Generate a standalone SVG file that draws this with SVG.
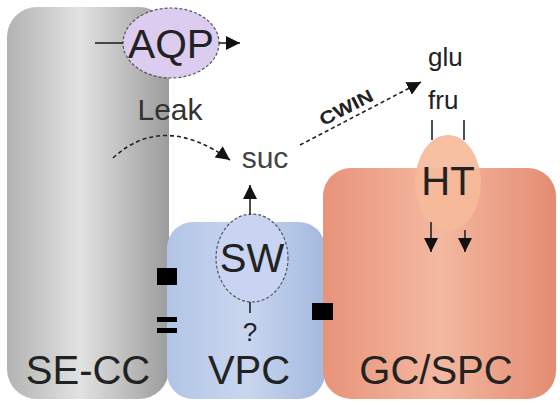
<svg xmlns="http://www.w3.org/2000/svg" width="560" height="403" viewBox="0 0 560 403">
<defs>
  <linearGradient id="gGray" x1="0" y1="0" x2="1" y2="0">
    <stop offset="0" stop-color="#b2b2b2"/>
    <stop offset="0.45" stop-color="#e2e2e2"/>
    <stop offset="1" stop-color="#9c9c9c"/>
  </linearGradient>
  <linearGradient id="gBlue" x1="0" y1="0" x2="1" y2="0">
    <stop offset="0" stop-color="#b2c5e6"/>
    <stop offset="0.5" stop-color="#c9d6ef"/>
    <stop offset="1" stop-color="#a3b9de"/>
  </linearGradient>
  <linearGradient id="gSalmon" x1="0" y1="0" x2="1" y2="0">
    <stop offset="0" stop-color="#e8937a"/>
    <stop offset="0.5" stop-color="#f3b8a0"/>
    <stop offset="1" stop-color="#e48c72"/>
  </linearGradient>
  <marker id="ah" markerWidth="16" markerHeight="14" refX="14" refY="7" orient="auto" markerUnits="userSpaceOnUse">
    <path d="M0,0 L14,7 L0,14 Z" fill="#111"/>
  </marker>
</defs>
<style>
  .lbl { font-family: "Liberation Sans", Arial, sans-serif; fill: #222; }
  .big { font-size: 40px; }
  .mid { font-size: 30px; }
  .conn { stroke: #222; stroke-width: 1.6; fill: none; }
  .dash { stroke-dasharray: 4 3; }
  .sq { fill: #000; }
</style>

<g id="SE-CC">
  <rect x="7" y="7" width="162" height="392" rx="30" ry="30" fill="url(#gGray)"/>
  <text class="lbl big" x="88" y="384" text-anchor="middle">SE-CC</text>
</g>
<g id="VPC">
  <rect x="167" y="222" width="158" height="177" rx="26" ry="26" fill="url(#gBlue)"/>
  <text class="lbl big" x="249" y="384" text-anchor="middle">VPC</text>
</g>
<g id="GC-SPC">
  <rect x="323" y="168" width="233" height="231" rx="28" ry="28" fill="url(#gSalmon)"/>
  <text class="lbl big" x="436" y="384" text-anchor="middle">GC/SPC</text>
</g>

<g id="AQP">
  <ellipse cx="171" cy="43" rx="48" ry="35" fill="#dccdf0" stroke="#555" stroke-width="1.2" stroke-dasharray="3 2"/>
  <text class="lbl big" x="171" y="58" text-anchor="middle" textLength="86" lengthAdjust="spacingAndGlyphs">AQP</text>
</g>
<g id="SW">
  <ellipse cx="252" cy="258" rx="36" ry="44" fill="#c8d4f1" stroke="#555" stroke-width="1.2" stroke-dasharray="3 2"/>
  <text class="lbl big" x="252" y="272" text-anchor="middle">SW</text>
  <text class="lbl" x="250" y="341" text-anchor="middle" style="font-size:26px">?</text>
</g>
<g id="HT">
  <ellipse cx="448" cy="183" rx="33" ry="48" fill="#f6b999" fill-opacity="0.9"/>
  <text class="lbl big" x="448" y="195" text-anchor="middle">HT</text>
</g>

<g id="labels">
  <text class="lbl mid" x="170" y="120" text-anchor="middle" style="fill:#333">Leak</text>
  <text class="lbl mid" x="265" y="168" text-anchor="middle" style="fill:#444">suc</text>
  <text class="lbl" x="428" y="66" style="font-size:26px">glu</text>
  <text class="lbl" x="428" y="109" style="font-size:26px">fru</text>
  <text class="lbl" x="0" y="0" transform="translate(349,113) rotate(-27)" text-anchor="middle" style="font-size:18px;font-weight:bold" textLength="58" lengthAdjust="spacingAndGlyphs">CWIN</text>
</g>

<g id="connectors">
  <line class="conn" x1="95" y1="43" x2="123" y2="43"/>
  <line class="conn" x1="219" y1="43" x2="240" y2="43" marker-end="url(#ah)"/>
  <path class="conn dash" d="M113,158 Q163,112 230,160" marker-end="url(#ah)"/>
  <line class="conn" x1="250" y1="215" x2="250" y2="185" marker-end="url(#ah)"/>
  <line class="conn dash" x1="300" y1="145" x2="421" y2="82" marker-end="url(#ah)"/>
  <line class="conn" x1="432" y1="120" x2="432" y2="140"/>
  <line class="conn" x1="464" y1="120" x2="464" y2="140"/>
  <line class="conn" x1="431" y1="222" x2="431" y2="252" marker-end="url(#ah)"/>
  <line class="conn" x1="465" y1="230" x2="465" y2="252" marker-end="url(#ah)"/>
  <line class="conn" x1="250" y1="302" x2="250" y2="313"/>
</g>

<g id="junctions">
  <rect class="sq" x="157" y="268" width="20" height="17"/>
  <rect class="sq" x="157" y="317" width="20" height="5"/>
  <rect class="sq" x="157" y="328" width="20" height="5"/>
  <rect class="sq" x="312" y="303" width="21" height="17"/>
</g>
</svg>
